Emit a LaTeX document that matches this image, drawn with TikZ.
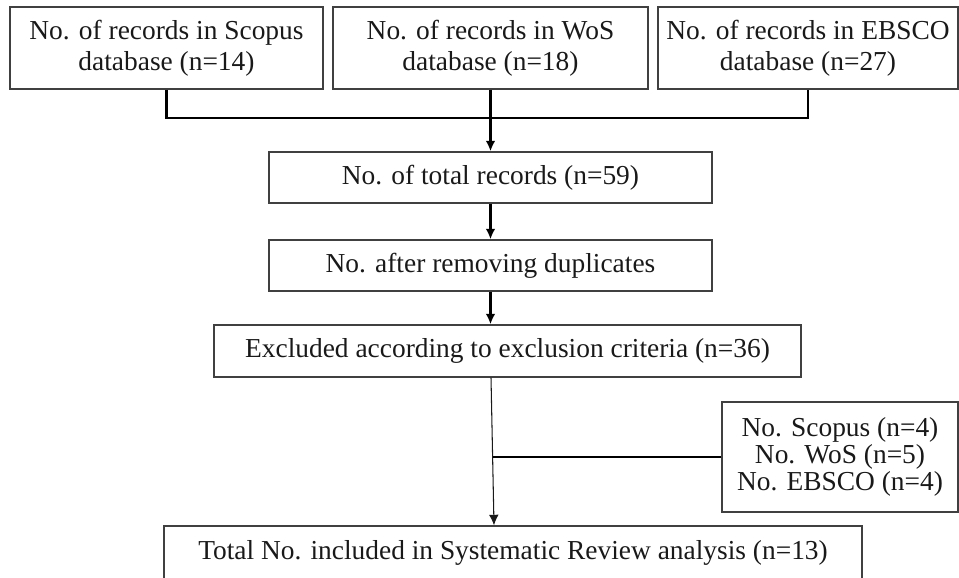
\documentclass[tikz,border=0pt]{standalone}
\usepackage{fontspec}
\setmainfont{Liberation Serif}
\usetikzlibrary{arrows.meta}

\begin{document}
\begin{tikzpicture}[color=black!85]

                \tikzset{box/.style = {shape=rectangle,draw=black!75,line width=0.75pt,inner sep=0pt,align=center,text=black!90,font=\fontsize{15.6}{17.6}\selectfont}}
                \tikzset{edge/.style = {->,> = {Latex[length=6pt,width=5.5pt]},line width=1.3pt,draw=black}}
                \tikzset{link/.style = {line width=1.3pt,draw=black}}
                \tikzset{thinedge/.style = {->,> = {Latex[length=6pt,width=5.5pt]},line width=0.6pt,draw=black!90}}
                \useasboundingbox (0,0) rectangle (19.18,11.54);

                \node[box,minimum width=6.26cm,minimum height=1.64cm] (scopus) at (3.33, 10.58) {No. of records in Scopus\\database (n=14)};
                \node[box,minimum width=6.30cm,minimum height=1.64cm] (wos) at (9.81, 10.58) {No. of records in WoS\\database (n=18)};
                \node[box,minimum width=6.00cm,minimum height=1.64cm] (ebsco) at (16.16, 10.58) {No. of records in EBSCO\\database (n=27)};
                \node[box,minimum width=8.86cm,minimum height=1.02cm] (total) at (9.81, 7.99) {No. of total records (n=59)};
                \node[box,minimum width=8.86cm,minimum height=1.02cm] (dup) at (9.81, 6.23) {No. after removing duplicates};
                \node[box,minimum width=11.74cm,minimum height=1.04cm] (excl) at (10.15, 4.52) {Excluded according to exclusion criteria (n=36)};
                \node[box,minimum width=4.72cm,minimum height=2.20cm,font=\fontsize{15.6}{13.9}\selectfont] (side) at (16.80, 2.40) {No. Scopus (n=4)\\No. WoS (n=5)\\No. EBSCO (n=4)};
                \node[box,minimum width=13.96cm,minimum height=1.08cm] (final) at (10.26, 0.48) {Total No. included in Systematic Review analysis (n=13)};

                \coordinate (joint) at (9.81, 9.18);
                \coordinate (split) at (9.85, 2.40);

                \draw[link] (scopus.south) |- (joint) -| (ebsco.south);
                \draw[edge] (wos.south) to (total.north);

                \draw[edge] (total.south) to (dup.north);
                \draw[edge] (dup.south) to ([xshift=-0.34cm]excl.north);

                \draw[thinedge] ([xshift=-0.33cm]excl.south) to ([xshift=-0.38cm]final.north);
                \draw[link] (side.west) to (split);
            \end{tikzpicture}
\end{document}
